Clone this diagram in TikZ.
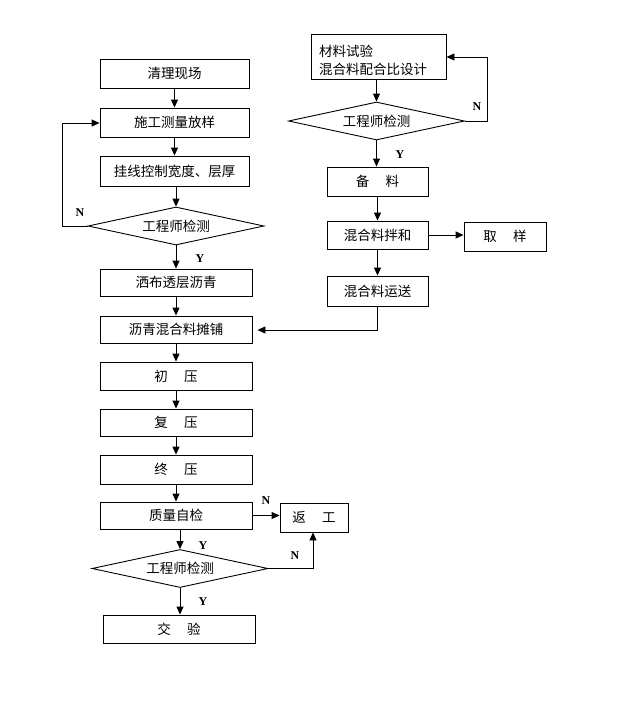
\documentclass[tikz,border=0pt]{standalone}
\usepackage{fontspec}
\setmainfont{Liberation Serif}
\newfontfamily\cjk{Noto Sans CJK SC}
\usetikzlibrary{shapes.geometric,arrows.meta}
\tikzset{
  box/.style={draw, line width=0.9pt, inner sep=0pt, font=\cjk\fontsize{13.5}{18}\selectfont},
  dia/.style={draw, line width=0.9pt, diamond, aspect=4.6, inner sep=0pt, minimum width=176pt, minimum height=38pt, font=\cjk\fontsize{13.5}{18}\selectfont},
  arr/.style={line width=0.9pt, -{Triangle[length=8pt,width=7pt]}},
  ln/.style={line width=0.9pt},
  yn/.style={font=\fontsize{12}{12}\selectfont\bfseries, inner sep=0pt}
}
\newcommand{\gp}{\hspace{1.2em}}
\begin{document}
\begin{tikzpicture}[x=1pt,y=-1pt]
\useasboundingbox[fill=white] (0,0) rectangle (617,702);
% left column
\node[box, minimum width=149pt, minimum height=29pt] (a1) at (174.5,73.5) {清理现场};
\node[box, minimum width=149pt, minimum height=29pt] (a2) at (174.5,122.5) {施工测量放样};
\node[box, minimum width=149pt, minimum height=30pt] (a3) at (174.5,171) {挂线控制宽度、层厚};
\node[dia] (d1) at (176,226) {工程师检测};
\node[box, minimum width=152pt, minimum height=27pt] (a4) at (176,282.5) {洒布透层沥青};
\node[box, minimum width=152pt, minimum height=27pt] (a5) at (176,329.5) {沥青混合料摊铺};
\node[box, minimum width=152pt, minimum height=28pt] (a6) at (176,376) {初\gp 压};
\node[box, minimum width=152pt, minimum height=27pt] (a7) at (176,422.5) {复\gp 压};
\node[box, minimum width=152pt, minimum height=29pt] (a8) at (176,469.5) {终\gp 压};
\node[box, minimum width=152pt, minimum height=27pt] (a9) at (176,515.5) {质量自检};
\node[box, minimum width=68pt, minimum height=29pt] (rw) at (314,517.5) {返\gp 工};
\node[dia] (d2) at (180,568.5) {工程师检测};
\node[box, minimum width=152pt, minimum height=28pt] (jy) at (179,629) {交\gp 验};
% right column
\node[box, minimum width=135pt, minimum height=45pt, align=left, text width=119pt, inner xsep=8pt] (b1) at (378.5,56.5) {\parbox{119pt}{\vspace{8pt}材料试验\\混合料配合比设计}};
\node[dia] (d3) at (376.5,121) {工程师检测};
\node[box, minimum width=101pt, minimum height=29pt] (b2) at (377.5,181.5) {备\gp 料};
\node[box, minimum width=101pt, minimum height=28pt] (b3) at (377.5,235) {混合料拌和};
\node[box, minimum width=82pt, minimum height=29pt] (qy) at (505,236.5) {取\gp 样};
\node[box, minimum width=101pt, minimum height=30pt] (b4) at (377.5,291) {混合料运送};
% connectors left
\draw[arr] (a1) -- (a2);
\draw[arr] (a2) -- (a3);
\draw[arr] (a3.south -| d1.north) -- (d1.north);
\coordinate (l1) at (62,226);
\coordinate (l2) at (62,123);
\draw[arr] (d1.west) -- (l1) -- (l2) -- (a2.west |- l2);
\node[yn] (n1) at (80,213) {N};
\draw[arr] (d1.south) -- (d1.south |- a4.north);
\node[yn] (y1) at (200,259) {Y};
\draw[arr] (a4.south -| d1.south) -- (a5.north -| d1.south);
\draw[arr] (a5.south -| d1.south) -- (a6.north -| d1.south);
\draw[arr] (a6.south -| d1.south) -- (a7.north -| d1.south);
\draw[arr] (a7.south -| d1.south) -- (a8.north -| d1.south);
\draw[arr] (a8.south -| d1.south) -- (a9.north -| d1.south);
\draw[arr] (a9.east) -- (rw.west |- a9.east);
\node[yn] (n2) at (266,501) {N};
\draw[arr] (a9.south -| d2.north) -- (d2.north);
\node[yn] (y2) at (203,546) {Y};
\coordinate (r1) at (313,568.5);
\draw[arr] (d2.east) -- (r1) -- (r1 |- rw.south);
\node[yn] (n3) at (295,556) {N};
\draw[arr] (d2.south) -- (d2.south |- jy.north);
\node[yn] (y3) at (203,602) {Y};
% connectors right
\draw[arr] (b1.south -| d3.north) -- (d3.north);
\coordinate (q1) at (487,121);
\coordinate (q2) at (487,57);
\draw[arr] (d3.east) -- (q1) -- (q2) -- (b1.east |- q2);
\node[yn] (n4) at (477,107) {N};
\draw[arr] (d3.south) -- (d3.south |- b2.north);
\node[yn] (y4) at (400,155) {Y};
\draw[arr] (b2) -- (b3);
\draw[arr] (b3) -- (b4);
\draw[arr] (b3.east) -- (qy.west |- b3.east);
\coordinate (s1) at (377.5,330);
\draw[arr] (b4.south) -- (s1) -- ([xshift=5pt]a5.east |- s1);
\end{tikzpicture}
\end{document}
